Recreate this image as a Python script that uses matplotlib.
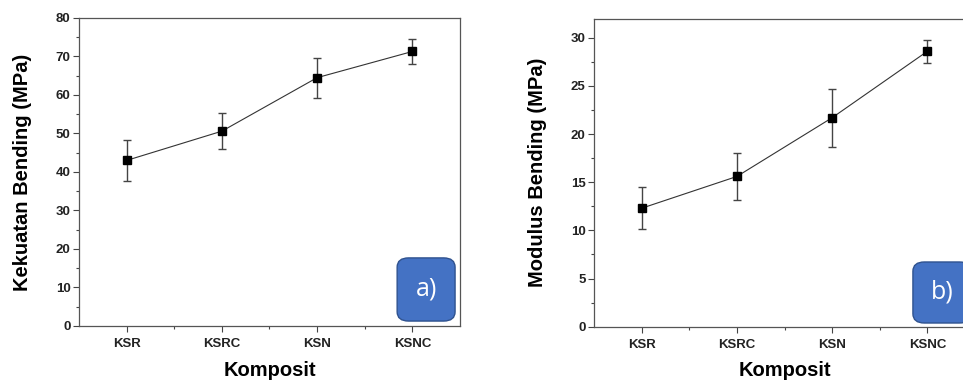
import matplotlib
matplotlib.use('Agg')
import matplotlib.pyplot as plt
from matplotlib.patches import FancyBboxPatch
from matplotlib.ticker import MultipleLocator, FixedLocator
import numpy as np

categories = ['KSR', 'KSRC', 'KSN', 'KSNC']

strength = [43.0, 50.6, 64.5, 71.3]
strength_err = [5.4, 4.6, 5.2, 3.2]

modulus = [12.3, 15.6, 21.7, 28.6]
modulus_err = [2.2, 2.4, 3.0, 1.2]

plt.rcParams['font.family'] = ['Liberation Sans', 'DejaVu Sans']

fig = plt.figure(figsize=(9.63, 3.81), dpi=100)
ax1 = fig.add_axes([0.082, 0.1444, 0.3957, 0.8084])
ax2 = fig.add_axes([0.6168, 0.1425, 0.3957, 0.8089])


def draw_panel(ax, values, errors, ylabel, ylim, major, minor, tag, box_xy):
    x = np.arange(len(categories))
    ax.errorbar(x, values, yerr=errors, fmt='none', ecolor='#444444',
                elinewidth=1.0, capsize=3, capthick=1.0, zorder=2)
    ax.plot(x, values, '-', color='#333333', linewidth=0.8, zorder=3)
    ax.plot(x, values, 's', color='black', markersize=5.5, zorder=4)

    ax.set_xlim(-0.5, 3.5)
    ax.set_ylim(*ylim)
    ax.set_xticks(x)
    ax.set_xticklabels(categories, fontweight='bold', fontsize=9.5)
    ax.xaxis.set_minor_locator(FixedLocator(x[:-1] + 0.5))
    ax.yaxis.set_major_locator(MultipleLocator(major))
    ax.yaxis.set_minor_locator(MultipleLocator(minor))
    for lab in ax.get_yticklabels():
        lab.set_fontweight('bold')
        lab.set_fontsize(9.5)

    ax.tick_params(axis='both', which='major', direction='out', length=4,
                   width=0.8, color='#444444', labelcolor='#222222')
    ax.tick_params(axis='both', which='minor', direction='out', length=2.5,
                   width=0.8, color='#444444')
    ax.tick_params(axis='x', which='major', pad=5)
    ax.tick_params(axis='y', which='major', pad=2)
    for sp in ax.spines.values():
        sp.set_color('#555555')
        sp.set_linewidth(0.9)

    ax.set_ylabel(ylabel, fontsize=14.5, fontweight='bold', va='center')
    ax.set_xlabel('Komposit', fontsize=14.5, fontweight='bold', va='center')
    ax.yaxis.set_label_coords(-0.148, 0.5)
    ax.xaxis.set_label_coords(0.5, -0.143)

    bx, by, bw, bh = box_xy
    box = FancyBboxPatch((bx, by), bw, bh, transform=ax.transAxes,
                         boxstyle='round,pad=0,rounding_size=0.03',
                         facecolor='#4472C4', edgecolor='#2F528F',
                         linewidth=1.0, clip_on=False, zorder=5)
    ax.add_patch(box)
    ax.text(bx + bw / 2, by + bh / 2, tag, transform=ax.transAxes,
            ha='center', va='center', color='white', fontsize=18,
            family=['Open Sans', 'DejaVu Sans'], zorder=6)


draw_panel(ax1, strength, strength_err, 'Kekuatan Bending (MPa)',
           (0, 80), 10, 5, 'a)', (0.835, 0.016, 0.152, 0.205))
draw_panel(ax2, modulus, modulus_err, 'Modulus Bending (MPa)',
           (0, 32), 5, 2.5, 'b)', (0.837, 0.012, 0.152, 0.198))

plt.savefig('out.png', dpi=100)
